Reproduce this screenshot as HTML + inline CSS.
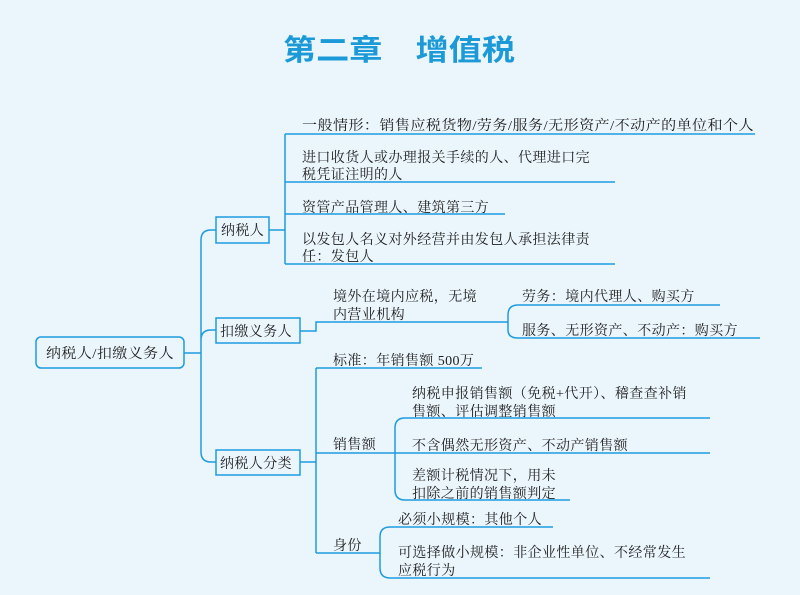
<!DOCTYPE html>
<html><head><meta charset="utf-8"><style>
html,body{margin:0;padding:0;background:#eaf5fc;}
svg{display:block;}
text{font-family:"Liberation Serif","Noto Serif CJK SC",serif;font-size:14px;fill:#222;letter-spacing:0.4px;}
</style></head><body>
<svg width="800" height="595" viewBox="0 0 800 595" xmlns="http://www.w3.org/2000/svg">
<rect width="800" height="595" fill="#eaf5fc"/>
<text x="283" y="60" textLength="232" lengthAdjust="spacingAndGlyphs" style="font-family:'Liberation Sans','Noto Sans CJK SC',sans-serif;font-size:29px;font-weight:bold;fill:#1c9ad8;letter-spacing:0">第二章　增值税</text>
<g fill="none" stroke="#1d9be0" stroke-width="1.5">
<rect x="36" y="337" width="148" height="31" rx="5" fill="#eaf5fc"/>
<path d="M184 353 H201 M201 353 V240 Q201 230 211 230 H216 M201 340 Q201 330 211 330 H216 M201 353 V452 Q201 462 211 462 H216"/>
<rect x="216" y="217" width="53" height="26" fill="#eaf5fc"/>
<rect x="216" y="318" width="84" height="25" fill="#eaf5fc"/>
<rect x="216" y="450" width="84" height="25" fill="#eaf5fc"/>
<path d="M269 230 H285 M285 134 V264 M285 134 H755 M285 182 H615 M285 214 H505 M285 264 H615"/>
<path d="M300 331 H316 V322 H508 M508 322 V315 Q508 305 518 305 H720 M508 322 V330 Q508 338 518 338 H760"/>
<path d="M300 462 H316 M316 368 V553 M316 368 H482 M316 453 H710 M395 453 V428 Q395 418 405 418 H710 M395 453 V490 Q395 500 405 500 H570 M316 553 H380 M380 553 V537 Q380 527 390 527 H553 M380 553 V568 Q380 578 390 578 H710"/>
</g>
<text x="46" y="358" textLength="128" lengthAdjust="spacingAndGlyphs">纳税人/扣缴义务人</text>
<text x="221" y="235">纳税人</text>
<text x="220" y="336">扣缴义务人</text>
<text x="220" y="468">纳税人分类</text>
<text x="302" y="130" textLength="452" lengthAdjust="spacingAndGlyphs">一般情形：销售应税货物/劳务/服务/无形资产/不动产的单位和个人</text>
<text x="302" y="162">进口收货人或办理报关手续的人、代理进口完</text>
<text x="302" y="179">税凭证注明的人</text>
<text x="302" y="212">资管产品管理人、建筑第三方</text>
<text x="302" y="244">以发包人名义对外经营并由发包人承担法律责</text>
<text x="302" y="261">任：发包人</text>
<text x="333" y="301">境外在境内应税，无境</text>
<text x="333" y="319">内营业机构</text>
<text x="522" y="301">劳务：境内代理人、购买方</text>
<text x="522" y="335">服务、无形资产、不动产：购买方</text>
<text x="333" y="365">标准：年销售额 500万</text>
<text x="333" y="449">销售额</text>
<text x="412" y="398">纳税申报销售额（免税+代开）、稽查查补销</text>
<text x="412" y="416">售额、评估调整销售额</text>
<text x="412" y="450">不含偶然无形资产、不动产销售额</text>
<text x="412" y="480">差额计税情况下，用未</text>
<text x="412" y="498">扣除之前的销售额判定</text>
<text x="333" y="550">身份</text>
<text x="398" y="524">必须小规模：其他个人</text>
<text x="398" y="557">可选择做小规模：非企业性单位、不经常发生</text>
<text x="398" y="575">应税行为</text>
</svg>
</body></html>
